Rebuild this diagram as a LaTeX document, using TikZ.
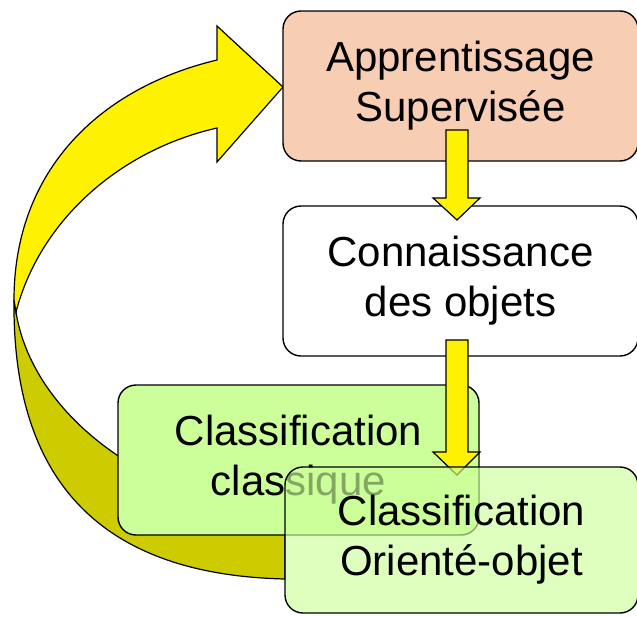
\documentclass[tikz,border=0pt]{standalone}
\usepackage{fontspec}
\setmainfont{Liberation Sans}
\definecolor{peach}{HTML}{F7CEB4}
\definecolor{lgreen}{HTML}{CCFF99}
\definecolor{olive}{HTML}{CCCC00}
\begin{document}
\begin{tikzpicture}[x=1pt,y=-1pt,
  box/.style={draw=black, line width=1.4pt, rounded corners=18pt, align=center,
    font=\fontsize{42}{50}\selectfont, inner sep=0pt},
  arrowshape/.style={draw=black, line width=1.2pt, fill=yellow, line join=miter}]
\useasboundingbox (0,0) rectangle (637,616);
% curved arrow: back face, then front face
\draw[arrowshape, fill=olive] (14,300) .. controls (12,490) and (110,575) .. (285,579)
  -- (285,520) .. controls (120,490) and (30,400) .. (16,312) -- cycle;
\draw[arrowshape] (14,300) .. controls (14,170) and (100,88) .. (217,60)
  -- (217,26) -- (283,87) -- (217,162) -- (217,128)
  .. controls (120,150) and (40,220) .. (16,312) -- cycle;
% boxes 1 and 2
\node[box, fill=peach, minimum width=355pt, minimum height=150pt] (appr) at (460.5,86) {Apprentissage\\Supervisée};
\node[box, fill=white, minimum width=355pt, minimum height=150pt] (conn) at (460.5,281) {Connaissance\\des objets};
% arrow 1
\draw[arrowshape] (446,130) -- (468,130) -- (468,198) -- (480,198) -- (457,220) -- (433,198) -- (446,198) -- cycle;
% box 3
\node[box, fill=lgreen, minimum width=361pt, minimum height=150pt] (clas) at (298.5,460) {Classification\\classique};
% arrow 2
\draw[arrowshape] (446,340) -- (468,340) -- (468,452) -- (480,452) -- (457,475) -- (433,452) -- (446,452) -- cycle;
% box 4
\node[box, fill=lgreen, fill opacity=0.65, text opacity=1, minimum width=353pt, minimum height=146pt] (orie) at (461.5,540) {Classification\\Orienté-objet};
\end{tikzpicture}
\end{document}
